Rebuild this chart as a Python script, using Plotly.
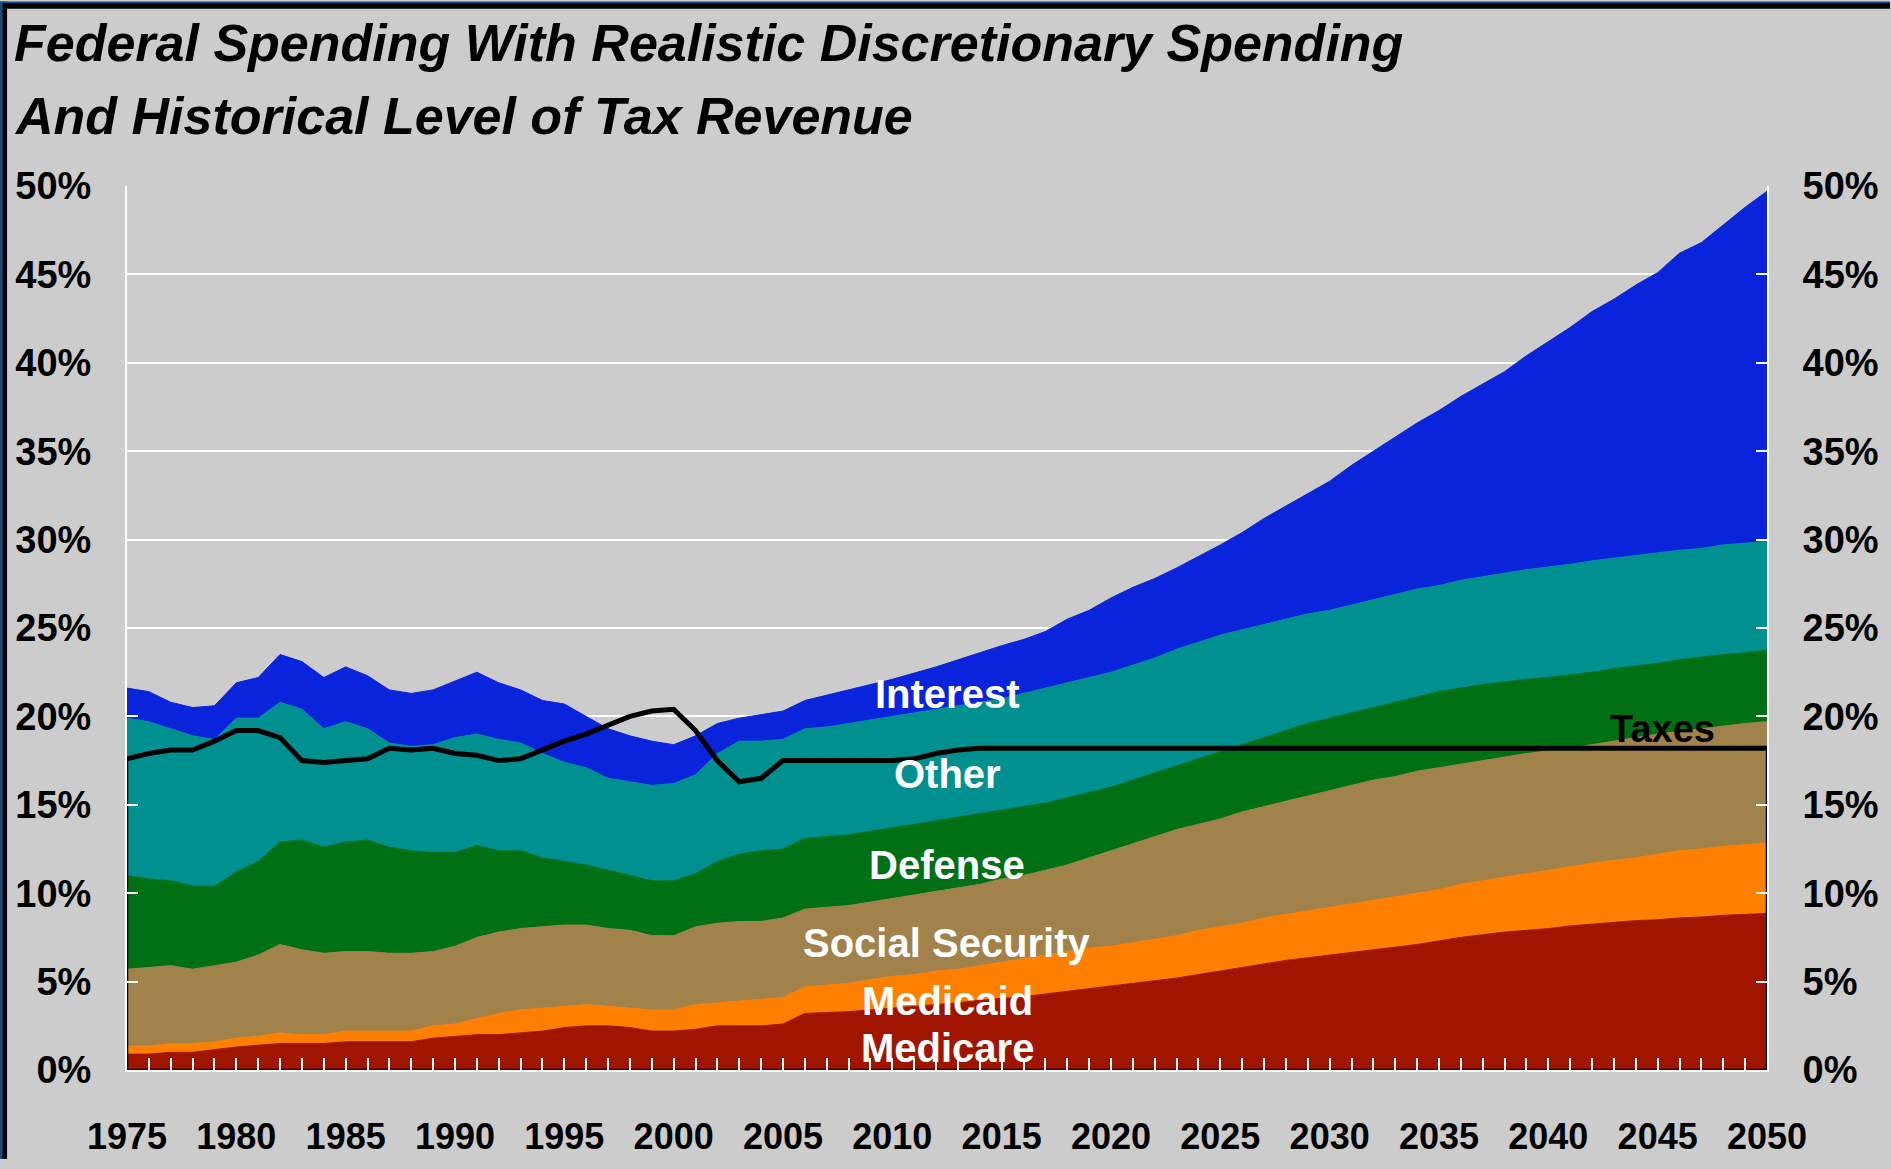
import plotly.graph_objects as go

years = list(range(1975, 2051))
year_labels = [str(y) if y % 5 == 0 else "" for y in years]

# Cumulative levels (top edge of each stacked band), % of GDP
medicare_top = [0.9, 0.9, 1.0, 1.0, 1.15, 1.3, 1.4, 1.5, 1.5, 1.5, 1.6, 1.6, 1.6, 1.6, 1.8, 1.9,
                2.0, 2.0, 2.1, 2.2, 2.4, 2.5, 2.5, 2.4, 2.2, 2.2, 2.3, 2.5, 2.5, 2.5, 2.6,
                3.2, 3.25, 3.3, 3.4, 3.5, 3.6, 3.7, 3.8, 3.95, 4.05, 4.15, 4.3, 4.45, 4.6, 4.75,
                4.9, 5.05, 5.2, 5.4, 5.6, 5.8, 6.0, 6.2, 6.35, 6.5, 6.65, 6.8, 6.95, 7.1, 7.3,
                7.5, 7.65, 7.8, 7.9, 8.0, 8.15, 8.25, 8.35, 8.45, 8.5, 8.6, 8.65, 8.75, 8.8, 8.86]
medicaid_top = [1.35, 1.35, 1.5, 1.5, 1.6, 1.8, 1.9, 2.1, 2.0, 2.0, 2.2, 2.2, 2.2, 2.2, 2.5, 2.6,
                2.9, 3.2, 3.4, 3.5, 3.6, 3.7, 3.6, 3.5, 3.4, 3.4, 3.7, 3.8, 3.9, 4.0, 4.1,
                4.7, 4.8, 4.9, 5.1, 5.3, 5.4, 5.6, 5.7, 5.9, 6.1, 6.3, 6.5, 6.7, 6.9, 7.0,
                7.2, 7.4, 7.6, 7.9, 8.1, 8.3, 8.6, 8.8, 9.0, 9.2, 9.4, 9.6, 9.8, 10.0, 10.2,
                10.5, 10.7, 10.9, 11.1, 11.3, 11.5, 11.7, 11.85, 12.0, 12.2, 12.4, 12.5, 12.65, 12.75, 12.85]
socsec_top = [5.7, 5.8, 5.9, 5.7, 5.9, 6.1, 6.5, 7.1, 6.8, 6.6, 6.7, 6.7, 6.6, 6.6, 6.7, 7.0,
              7.5, 7.8, 8.0, 8.1, 8.2, 8.2, 8.0, 7.9, 7.6, 7.6, 8.1, 8.3, 8.4, 8.4, 8.6,
              9.1, 9.2, 9.3, 9.5, 9.7, 9.9, 10.1, 10.3, 10.5, 10.8, 11.0, 11.3, 11.6, 12.0, 12.4,
              12.8, 13.2, 13.6, 13.9, 14.2, 14.6, 14.9, 15.2, 15.5, 15.8, 16.1, 16.4, 16.6, 16.9, 17.1,
              17.3, 17.5, 17.7, 17.9, 18.05, 18.2, 18.4, 18.6, 18.8, 19.0, 19.15, 19.3, 19.45, 19.6, 19.7]
defense_top = [11.0, 10.8, 10.7, 10.4, 10.4, 11.2, 11.8, 12.9, 13.0, 12.6, 12.9, 13.0, 12.6, 12.4, 12.3, 12.3,
               12.7, 12.4, 12.4, 12.0, 11.8, 11.6, 11.3, 11.0, 10.7, 10.7, 11.1, 11.8, 12.2, 12.4, 12.5,
               13.1, 13.2, 13.3, 13.5, 13.7, 13.9, 14.1, 14.3, 14.5, 14.7, 14.9, 15.1, 15.4, 15.7, 16.0,
               16.4, 16.8, 17.2, 17.6, 18.0, 18.4, 18.8, 19.2, 19.6, 19.9, 20.2, 20.5, 20.8, 21.1, 21.4,
               21.6, 21.8, 21.95, 22.1, 22.2, 22.35, 22.5, 22.7, 22.85, 23.0, 23.2, 23.35, 23.5, 23.6, 23.75]
other_top = [19.9, 19.7, 19.3, 18.9, 18.7, 19.9, 19.9, 20.8, 20.4, 19.3, 19.7, 19.3, 18.5, 18.3, 18.4, 18.8,
             19.0, 18.7, 18.5, 17.9, 17.4, 17.1, 16.5, 16.3, 16.1, 16.2, 16.7, 17.9, 18.6, 18.6, 18.7,
             19.3, 19.4, 19.6, 19.8, 20.0, 20.2, 20.4, 20.6, 20.8, 21.0, 21.3, 21.6, 21.9, 22.2, 22.5,
             22.9, 23.3, 23.8, 24.2, 24.6, 24.9, 25.2, 25.5, 25.8, 26.0, 26.3, 26.6, 26.9, 27.2, 27.4,
             27.7, 27.9, 28.1, 28.3, 28.45, 28.6, 28.8, 28.95, 29.1, 29.25, 29.4, 29.5, 29.7, 29.8, 29.9]
interest_top = [21.6, 21.4, 20.8, 20.5, 20.6, 21.9, 22.2, 23.5, 23.1, 22.2, 22.8, 22.3, 21.5, 21.3, 21.5, 22.0,
                22.5, 21.9, 21.5, 20.9, 20.7, 20.0, 19.3, 18.9, 18.6, 18.4, 18.9, 19.6, 19.9, 20.1, 20.3,
                20.9, 21.2, 21.5, 21.8, 22.1, 22.45, 22.8, 23.2, 23.6, 24.0, 24.35, 24.8, 25.5, 26.0, 26.7,
                27.3, 27.8, 28.4, 29.05, 29.7, 30.4, 31.2, 31.9, 32.6, 33.3, 34.2, 35.0, 35.8, 36.6, 37.3,
                38.1, 38.8, 39.5, 40.4, 41.2, 42.0, 42.9, 43.6, 44.4, 45.1, 46.2, 46.8, 47.8, 48.8, 49.7]
taxes = [17.6, 17.9, 18.1, 18.1, 18.6, 19.2, 19.2, 18.8, 17.5, 17.4, 17.5, 17.6, 18.2, 18.1, 18.2, 17.9,
         17.8, 17.5, 17.6, 18.1, 18.6, 19.0, 19.5, 20.0, 20.3, 20.4, 19.2, 17.5, 16.3, 16.5, 17.5,
         17.5, 17.5, 17.5, 17.5, 17.5, 17.6, 17.9, 18.1, 18.2, 18.2, 18.2, 18.2, 18.2, 18.2, 18.2,
         18.2, 18.2, 18.2, 18.2, 18.2, 18.2, 18.2, 18.2, 18.2, 18.2, 18.2, 18.2, 18.2, 18.2, 18.2,
         18.2, 18.2, 18.2, 18.2, 18.2, 18.2, 18.2, 18.2, 18.2, 18.2, 18.2, 18.2, 18.2, 18.2, 18.2]

bands = [
    ("Medicare", medicare_top, "#A01400"),
    ("Medicaid", medicaid_top, "#FF7F00"),
    ("Social Security", socsec_top, "#A0824A"),
    ("Defense", defense_top, "#007015"),
    ("Other", other_top, "#009090"),
    ("Interest", interest_top, "#0A24DC"),
]

# In-chart band labels: (text, level) placed at label_year
label_year = 2012.5
band_labels = [("Interest", 21.26), ("Other", 16.75), ("Defense", 11.6),
               ("Social Security", 7.17), ("Medicaid", 3.88), ("Medicare", 1.27)]
taxes_label = ("Taxes", 2045.2, 19.3)

BG = "#CCCCCC"
FONT = "Liberation Sans, Arial, sans-serif"
W, H = 1891, 1169
ML, MR, MT, MB = 127, W - 1768, 186, H - 1079
PW, PH = W - ML - MR, H - MT - MB


def px(xp):
    return (xp - ML) / PW


def py(yp):
    return (H - MB - yp) / PH


fig = go.Figure()
for i, (name, vals, col) in enumerate(bands):
    fig.add_trace(go.Scatter(
        x=years, y=vals, name=name, mode="lines",
        line=dict(width=1, color=col), fillcolor=col,
        fill="tozeroy" if i == 0 else "tonexty",
        hoverinfo="x+y+name",
    ))

# outline of the Taxes series (down to zero at both ends and along the base)
fig.add_trace(go.Scatter(
    x=[years[0], years[0], years[-1], years[-1]],
    y=[taxes[0], 0, 0, taxes[-1]],
    mode="lines", line=dict(color="black", width=2.5), hoverinfo="skip",
    showlegend=False,
))
fig.add_trace(go.Scatter(
    x=years, y=taxes, name="Taxes", mode="lines",
    line=dict(color="black", width=5),
))
# carrier for the right-hand percentage axis
fig.add_trace(go.Scatter(
    x=[years[0]], y=[taxes[0]], mode="markers", marker=dict(opacity=0),
    hoverinfo="skip", showlegend=False, yaxis="y2",
))

for text, yv in band_labels:
    fig.add_annotation(x=label_year, y=yv, text=f"<b>{text}</b>", showarrow=False,
                       font=dict(family=FONT, size=40, color="white"),
                       xanchor="center", yanchor="middle")
fig.add_annotation(x=taxes_label[1], y=taxes_label[2], text=f"<b>{taxes_label[0]}</b>",
                   showarrow=False, font=dict(family=FONT, size=38, color="black"),
                   xanchor="center", yanchor="middle")

title_lines = ["Federal Spending With Realistic Discretionary Spending",
               "And Historical Level of Tax Revenue"]
for line, ypix in zip(title_lines, [42, 115]):
    fig.add_annotation(xref="paper", yref="paper", x=px(12), y=py(ypix),
                       text=f"<b><i>{line}</i></b>", showarrow=False,
                       font=dict(family=FONT, size=52, color="black"),
                       xanchor="left", yanchor="middle")

# frame on top and left edges
fig.add_shape(type="rect", xref="paper", yref="paper", x0=px(0), x1=px(7), y0=py(H), y1=py(0),
              fillcolor="black", line_width=0, layer="above")
fig.add_shape(type="rect", xref="paper", yref="paper", x0=px(0), x1=px(W), y0=py(7), y1=py(0),
              fillcolor="black", line_width=0, layer="above")
fig.add_shape(type="rect", xref="paper", yref="paper", x0=px(0), x1=px(2.5), y0=py(H), y1=py(0),
              fillcolor="#1A4F86", line_width=0, layer="above")
fig.add_shape(type="rect", xref="paper", yref="paper", x0=px(0), x1=px(W), y0=py(1.5), y1=py(0),
              fillcolor="#1A4F86", line_width=0, layer="above")

xfont = dict(family=FONT, size=36, color="black", weight="bold")
yfont = dict(family=FONT, size=38, color="black", weight="bold")
yticks = dict(range=[0, 50], tickmode="linear", tick0=0, dtick=5, ticksuffix="%",
              ticks="inside", ticklen=11, tickcolor="white", tickwidth=2,
              showline=True, linecolor="white", linewidth=2,
              tickfont=yfont, ticklabelstandoff=26, zeroline=False, fixedrange=True)

fig.update_layout(
    width=W, height=H,
    margin=dict(l=ML, r=MR, t=MT, b=MB, pad=0),
    paper_bgcolor=BG, plot_bgcolor=BG,
    showlegend=False,
    xaxis=dict(range=[1975, 2050], tickmode="array", tickvals=years, ticktext=year_labels,
               ticks="inside", ticklen=12, tickcolor="white", tickwidth=2,
               showgrid=False, showline=True, linecolor="white", linewidth=2,
               tickfont=xfont, ticklabelstandoff=34, zeroline=False, layer="above traces"),
    yaxis=dict(**yticks, side="left", showgrid=True, gridcolor="white", gridwidth=2,
               layer="above traces"),
    yaxis2=dict(**yticks, side="right", overlaying="y", anchor="x", showgrid=False,
                layer="above traces"),
)

fig.write_html("out.html", config={"displayModeBar": False},
               post_script="document.body.style.margin='0';document.body.style.overflow='hidden';")
